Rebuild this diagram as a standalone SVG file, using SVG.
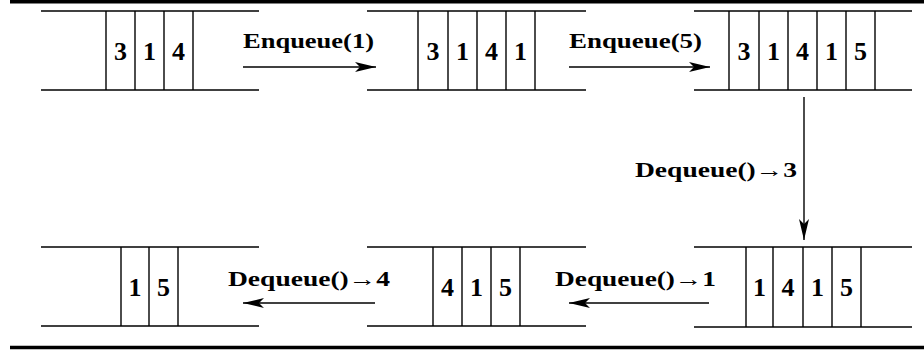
<svg xmlns="http://www.w3.org/2000/svg" width="924" height="352" viewBox="0 0 924 352">
<defs>
<style>
.q line{stroke:#000;stroke-width:1.4}
.d{font-family:"Liberation Serif",serif;font-weight:bold;font-size:26px;text-anchor:middle;fill:#000}
.lbl{font-family:"Liberation Serif",serif;font-weight:bold;font-size:22px;fill:#000}
.c line{stroke:#000;stroke-width:1.4}
.rule{stroke:#000;stroke-width:3.5}
</style>
<marker id="ah" markerWidth="22" markerHeight="12" refX="21" refY="6" orient="auto" markerUnits="userSpaceOnUse">
<path d="M0,1 L21,6 L0,11 L5,6 Z" fill="#000"/>
</marker>
</defs>
<rect width="924" height="352" fill="#fff"/>
<line class="rule" x1="10" y1="1.8" x2="924" y2="1.8"/>
<line class="rule" x1="10" y1="347.5" x2="924" y2="347.5"/>

<g id="q1" class="q">
<line x1="41" y1="11" x2="259" y2="11"/><line x1="41" y1="90" x2="259" y2="90"/>
<line x1="106" y1="11" x2="106" y2="90"/><line x1="135" y1="11" x2="135" y2="90"/><line x1="164" y1="11" x2="164" y2="90"/><line x1="193" y1="11" x2="193" y2="90"/>
<text class="d" x="120.5" y="60">3</text><text class="d" x="149.5" y="60">1</text><text class="d" x="178.5" y="60">4</text>
</g>

<g id="q2" class="q">
<line x1="367" y1="11" x2="586" y2="11"/><line x1="367" y1="90" x2="586" y2="90"/>
<line x1="418" y1="11" x2="418" y2="90"/><line x1="448" y1="11" x2="448" y2="90"/><line x1="477" y1="11" x2="477" y2="90"/><line x1="506" y1="11" x2="506" y2="90"/><line x1="535" y1="11" x2="535" y2="90"/>
<text class="d" x="433" y="60">3</text><text class="d" x="462.5" y="60">1</text><text class="d" x="491.5" y="60">4</text><text class="d" x="520.5" y="60">1</text>
</g>

<g id="q3" class="q">
<line x1="694" y1="11" x2="912" y2="11"/><line x1="694" y1="90" x2="912" y2="90"/>
<line x1="729" y1="11" x2="729" y2="90"/><line x1="759" y1="11" x2="759" y2="90"/><line x1="788" y1="11" x2="788" y2="90"/><line x1="817" y1="11" x2="817" y2="90"/><line x1="846" y1="11" x2="846" y2="90"/><line x1="875" y1="11" x2="875" y2="90"/>
<text class="d" x="744" y="60">3</text><text class="d" x="773.5" y="60">1</text><text class="d" x="802.5" y="60">4</text><text class="d" x="831.5" y="60">1</text><text class="d" x="860.5" y="60">5</text>
</g>

<g id="q4" class="q">
<line x1="694" y1="247" x2="912" y2="247"/><line x1="694" y1="327" x2="912" y2="327"/>
<line x1="746" y1="247" x2="746" y2="327"/><line x1="773" y1="247" x2="773" y2="327"/><line x1="803" y1="247" x2="803" y2="327"/><line x1="832" y1="247" x2="832" y2="327"/><line x1="861" y1="247" x2="861" y2="327"/>
<text class="d" x="759.5" y="296">1</text><text class="d" x="788" y="296">4</text><text class="d" x="817.5" y="296">1</text><text class="d" x="846.5" y="296">5</text>
</g>

<g id="q5" class="q">
<line x1="367" y1="247" x2="586" y2="247"/><line x1="367" y1="326" x2="586" y2="326"/>
<line x1="433" y1="247" x2="433" y2="326"/><line x1="462" y1="247" x2="462" y2="326"/><line x1="491" y1="247" x2="491" y2="326"/><line x1="520" y1="247" x2="520" y2="326"/>
<text class="d" x="447.5" y="296">4</text><text class="d" x="476.5" y="296">1</text><text class="d" x="505.5" y="296">5</text>
</g>

<g id="q6" class="q">
<line x1="41" y1="247" x2="259" y2="247"/><line x1="41" y1="326" x2="259" y2="326"/>
<line x1="121" y1="247" x2="121" y2="326"/><line x1="149" y1="247" x2="149" y2="326"/><line x1="178" y1="247" x2="178" y2="326"/>
<text class="d" x="135" y="296">1</text><text class="d" x="163.5" y="296">5</text>
</g>

<g id="connectors" class="c">
<line x1="243" y1="67" x2="376" y2="67" marker-end="url(#ah)"/>
<line x1="569" y1="67" x2="710" y2="67" marker-end="url(#ah)"/>
<line x1="804" y1="97" x2="804" y2="240" marker-end="url(#ah)"/>
<line x1="709" y1="303" x2="569" y2="303" marker-end="url(#ah)"/>
<line x1="375" y1="303" x2="243" y2="303" marker-end="url(#ah)"/>
</g>

<g id="labels">
<text class="lbl" x="243" y="48" textLength="131" lengthAdjust="spacingAndGlyphs">Enqueue(1)</text>
<text class="lbl" x="569" y="48" textLength="133" lengthAdjust="spacingAndGlyphs">Enqueue(5)</text>
<text class="lbl" x="635" y="177" textLength="162" lengthAdjust="spacingAndGlyphs">Dequeue()→3</text>
<text class="lbl" x="555" y="286" textLength="161" lengthAdjust="spacingAndGlyphs">Dequeue()→1</text>
<text class="lbl" x="228" y="286" textLength="162" lengthAdjust="spacingAndGlyphs">Dequeue()→4</text>
</g>
</svg>
